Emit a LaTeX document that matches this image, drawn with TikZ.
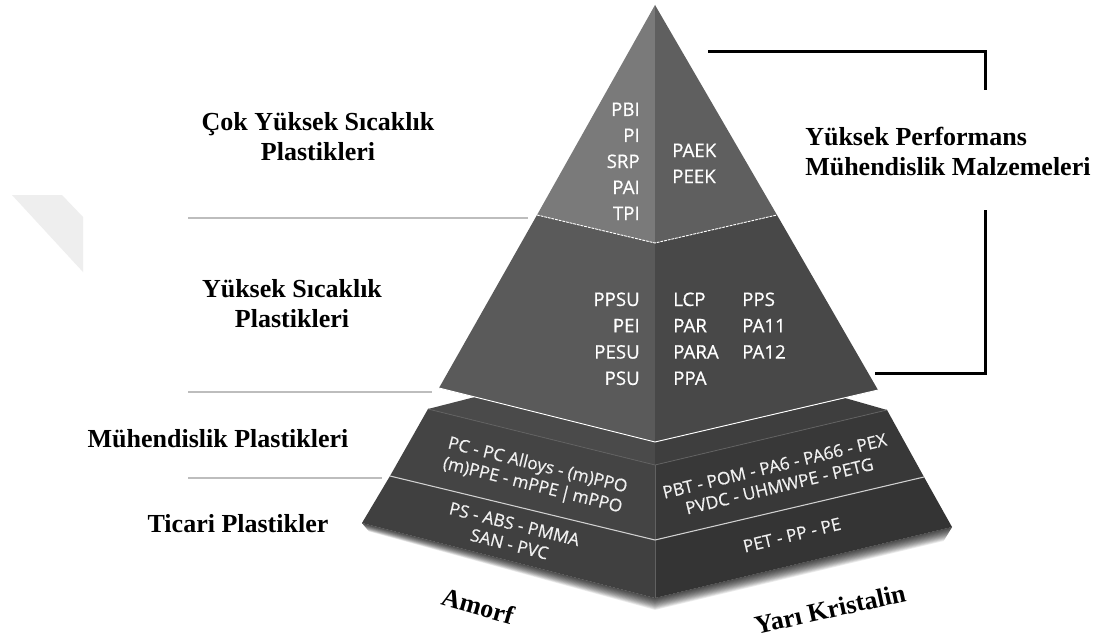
\documentclass[tikz,border=0pt]{standalone}
\usepackage{fontspec}
\setmainfont{Liberation Serif}
\newfontfamily\chemfont{Open Sans}[FakeBold=0.5]

% face shades of the pyramid
\definecolor{topL}{HTML}{7A7A7A}
\definecolor{topR}{HTML}{5F5F5F}
\definecolor{midL}{HTML}{5A5A5A}
\definecolor{midR}{HTML}{484848}
\definecolor{capL}{HTML}{4A4A4A}
\definecolor{capR}{HTML}{3E3E3E}
\definecolor{engL}{HTML}{444444}
\definecolor{engR}{HTML}{383838}
\definecolor{comL}{HTML}{404040}
\definecolor{comR}{HTML}{343434}
\definecolor{guidegray}{HTML}{BDBDBD}
\definecolor{markgray}{HTML}{EEEEEE}

\begin{document}
\begin{tikzpicture}[x=0.75pt,y=-0.75pt,
  lbl/.style={font=\fontsize{19.5}{22}\selectfont\bfseries, inner sep=0pt},
  chem/.style={font=\chemfont\fontsize{14}{17}\selectfont, text=white, inner sep=0pt},
  chemrot/.style={font=\chemfont\fontsize{13}{15.5}\selectfont, text=white!94!black, inner sep=0pt, align=center},
  guide/.style={draw=guidegray, line width=1.5pt},
  bracket/.style={draw=black, line width=2.25pt},
  seam/.style={draw=white, line width=0.7pt},
  edge/.style={draw=black!62, line width=0.6pt},
]
\fill[white] (0,0) rectangle (1103,642);
\useasboundingbox (0,0) rectangle (1103,642);

% faint folded mark on the left margin
\fill[markgray] (12,195) -- (62,195) -- (83,217) -- (83,272) -- cycle;

% pyramid corner points
\coordinate (A)   at (655,5);
\coordinate (TL)  at (537,215);
\coordinate (TC)  at (655,243);
\coordinate (TR)  at (777,215);
\coordinate (ML)  at (439,388);
\coordinate (MC)  at (655,442);
\coordinate (MR)  at (878,390);
% base block
\coordinate (BTL) at (428,409);
\coordinate (BKL) at (475,397);
\coordinate (BKR) at (845,398);
\coordinate (BTR) at (887,410);
\coordinate (FC)  at (655,465);
\coordinate (DL)  at (390,476);
\coordinate (DC)  at (655,540);
\coordinate (DR)  at (924,477);
\coordinate (BL)  at (362,523);
\coordinate (BC)  at (655,598);
\coordinate (BR)  at (952,527);

% soft shadow under the base block, built from stacked translucent strips
\foreach \d in {1,...,14}
  \fill[black, opacity=0.08]
    (BL) -- (BC) -- (BR)
    -- ([shift={(-0.6*\d,1.0*\d)}]BR)
    -- ([shift={(0,0.85*\d)}]BC)
    -- ([shift={(0.5*\d,0.6*\d)}]BL) -- cycle;

% base block faces
\fill[capL] (BTL) -- (BKL) -- (MC) -- (FC) -- cycle;
\fill[capR] (MC) -- (BKR) -- (BTR) -- (FC) -- cycle;
\fill[engL] (BTL) -- (FC) -- (DC) -- (DL) -- cycle;
\fill[engR] (FC) -- (BTR) -- (DR) -- (DC) -- cycle;
\fill[comL] (DL) -- (DC) -- (BC) -- (BL) -- cycle;
\fill[comR] (DC) -- (DR) -- (BR) -- (BC) -- cycle;
\draw[edge] (BTL) -- (FC) -- (BTR);
\draw[edge] (FC) -- (BC);
\draw[draw=black!18, line width=0.8pt] (DL) -- (DC) -- (DR);

% upper tiers
\fill[midL] (TL) -- (ML) -- (MC) -- (TC) -- cycle;
\fill[midR] (TC) -- (MC) -- (MR) -- (TR) -- cycle;
\fill[topL] (A) -- (TL) -- (TC) -- cycle;
\fill[topR] (A) -- (TC) -- (TR) -- cycle;
\draw[seam] (ML) -- (MC) -- (MR);
\draw[seam, dash pattern=on 2pt off 0.8pt] (TL) -- (TC) -- (TR);

% polymer names, top tier
\foreach \t [count=\i from 0] in {PBI,PI,SRP,PAI,TPI}
  \node[chem, anchor=base east] (vha-\i) at (640,116+26*\i) {\t};
\foreach \t [count=\i from 0] in {PAEK,PEEK}
  \node[chem, anchor=base west] (vhc-\i) at (672,157+26*\i) {\t};

% polymer names, middle tier
\foreach \t [count=\i from 0] in {PPSU,PEI,PESU,PSU}
  \node[chem, anchor=base east] (hta-\i) at (640,306+26.3*\i) {\t};
\foreach \t [count=\i from 0] in {LCP,PAR,PARA,PPA}
  \node[chem, anchor=base west] (htc-\i) at (673,306+26.3*\i) {\t};
\foreach \t [count=\i from 0] in {PPS,PA11,PA12}
  \node[chem, anchor=base west] (htd-\i) at (742,306+26.3*\i) {\t};

% polymer names, base block
\node[chemrot, rotate=-14] (enga) at (535,476) {PC - PC Alloys - (m)PPO\\(m)PPE - mPPE\,|\,mPPO};
\node[chemrot, rotate=-14] (coma) at (512,534) {PS - ABS - PMMA\\SAN - PVC};
\node[chemrot, rotate=13.5] (engc) at (777,476) {PBT - POM - PA6 - PA66 - PEX\\PVDC - UHMWPE - PETG};
\node[chemrot, rotate=13.5] (comc) at (792,535) {PET - PP - PE};

% class labels on the left with guide lines
\node[lbl, anchor=base] (uht1) at (318,130) {Çok Yüksek Sıcaklık};
\node[lbl, anchor=base] (uht2) at (318,160) {Plastikleri};
\node[lbl, anchor=base] (ht1) at (292,297) {Yüksek Sıcaklık};
\node[lbl, anchor=base] (ht2) at (292,327) {Plastikleri};
\node[lbl, anchor=base] (eng) at (218,447) {Mühendislik Plastikleri};
\node[lbl, anchor=base] (com) at (238,532) {Ticari Plastikler};

\coordinate (g1a) at (188,218); \coordinate (g1b) at (528,218);
\coordinate (g2a) at (188,392); \coordinate (g2b) at (432,392);
\coordinate (g3a) at (188,478); \coordinate (g3b) at (382,478);
\draw[guide] (g1a) -- (g1b);
\draw[guide] (g2a) -- (g2b);
\draw[guide] (g3a) -- (g3b);

% morphology labels under the base
\node[lbl, rotate=-16] (amo) at (478,606) {Amorf};
\node[lbl, rotate=12.5] (semi) at (830,609) {Yarı Kristalin};

% bracket for the high performance group
\coordinate (k1) at (708,52);
\coordinate (k2) at (985,90);
\coordinate (k3) at (985,210);
\coordinate (k4) at (875,373);
\draw[bracket] (k1) -| (k2);
\draw[bracket] (k3) |- (k4);
\node[lbl, anchor=base west] (hp1) at (805,145) {Yüksek Performans};
\node[lbl, anchor=base west] (hp2) at (805,175) {Mühendislik Malzemeleri};
\end{tikzpicture}
\end{document}
